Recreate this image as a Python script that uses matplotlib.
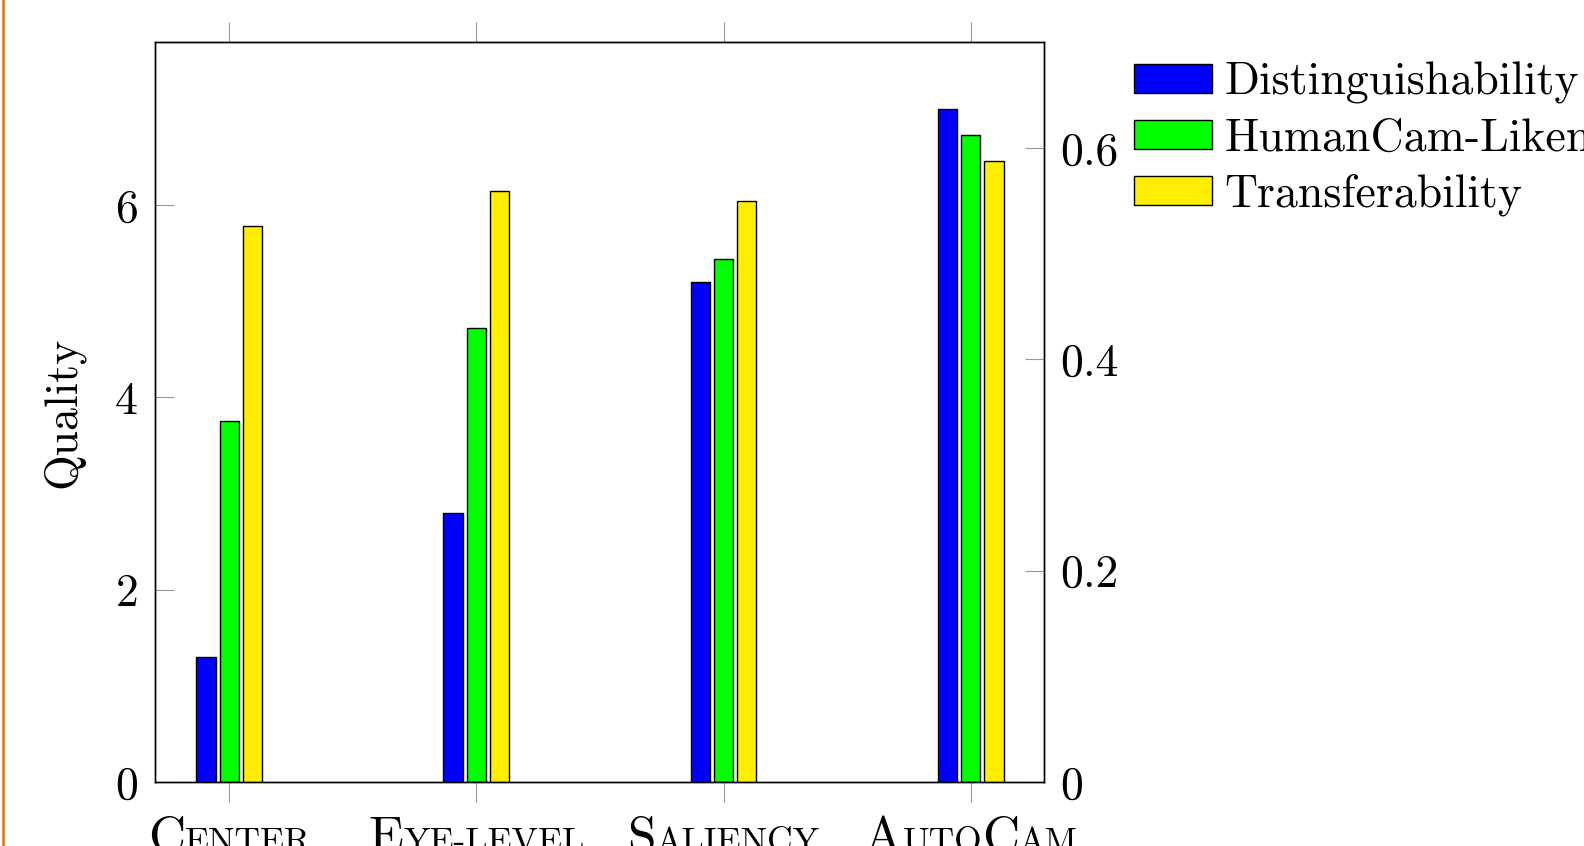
import matplotlib
matplotlib.use("Agg")
import matplotlib.pyplot as plt
from matplotlib.lines import Line2D
import numpy as np

# valori
categorie = ["Center", "Eye-level", "Saliency", "AutoCam"]
# etichette in maiuscoletto: (testo, grande?)
etichette_sc = [
    [("C", True), ("ENTER", False)],
    [("E", True), ("YE-LEVEL", False)],
    [("S", True), ("ALIENCY", False)],
    [("A", True), ("UTO", False), ("C", True), ("AM", False)],
]
distinguishability = [1.3, 2.8, 5.2, 7.0]
humancam = [3.75, 4.72, 5.44, 6.73]
transferability = [0.526, 0.559, 0.550, 0.588]

W, H, DPI = 1584, 846, 100
FS = 33
FS_BIG = 37
FS_SC = 25.5

plt.rcParams["font.family"] = ["cmr10", "DejaVu Serif"]
plt.rcParams["axes.formatter.use_mathtext"] = True
plt.rcParams["font.size"] = FS

fig = plt.figure(figsize=(W / DPI, H / DPI), dpi=DPI)
ax = fig.add_axes([154.5 / W, 1 - 782 / H, 889 / W, 739.6 / H])
ax2 = ax.twinx()

x = np.arange(len(categorie))
larg = 0.078
passo = 0.094
tick_col = "#9a9a9a"

b1 = ax.bar(x - passo, distinguishability, larg, color="#0000ff", edgecolor="black", linewidth=1.0, label="Distinguishability")
b2 = ax.bar(x, humancam, larg, color="#00ff00", edgecolor="black", linewidth=1.0, label="HumanCam-Likeness")
b3 = ax2.bar(x + passo, transferability, larg, color="#ffee00", edgecolor="black", linewidth=1.0, label="Transferability")

ax.set_xlim(-0.302, 3.294)
ax.set_ylim(0, 7.69)
ax2.set_ylim(0, 0.7)

ax.set_yticks([0, 2, 4, 6])
ax2.set_yticks([0, 0.2, 0.4, 0.6])
ax2.set_yticklabels(["0", "0.2", "0.4", "0.6"])
ax.set_xticks(x)
ax.set_xticklabels([])

ax.tick_params(axis="y", direction="in", length=14, width=0.8, color=tick_col, pad=12, labelsize=FS, left=True, right=False)
ax2.tick_params(axis="y", direction="in", length=14, width=0.8, color=tick_col, pad=12, labelsize=FS, left=False, right=True)
ax.tick_params(axis="x", direction="out", length=14.5, width=0.8, color=tick_col, top=True, bottom=True, labelbottom=False)
ax2.tick_params(axis="x", top=False, bottom=False, labelbottom=False)

for a in (ax, ax2):
    for s in a.spines.values():
        s.set_linewidth(1.0)
        s.set_color("black")

fig.text(63 / W, 1 - 412 / H, "Quality", rotation=90, ha="center", va="center", fontsize=FS)

fig.legend([b1, b2, b3], ["Distinguishability", "HumanCam-Likeness", "Transferability"],
           loc="upper left", bbox_to_anchor=(1134 / W, 1 - 62 / H), frameon=False,
           borderpad=0, borderaxespad=0, handlelength=1.7, handleheight=0.59,
           handletextpad=0.27, labelspacing=0.3, fontsize=FS)

# linea arancione a sinistra
fig.add_artist(Line2D([3.3 / W, 3.3 / W], [0, 1], color="#e8730c", linewidth=1.8))

# etichette asse x in maiuscoletto
fig.canvas.draw()
renderer = fig.canvas.get_renderer()
y_base = 1 - 852 / H
for i, pezzi in enumerate(etichette_sc):
    testi = []
    for t, grande in pezzi:
        testi.append(fig.text(0, y_base, t, fontsize=FS_BIG if grande else FS_SC, ha="left", va="baseline"))
    larghezze = [tt.get_window_extent(renderer).width for tt in testi]
    cx = ax.transData.transform((x[i], 0))[0]
    pos = cx - sum(larghezze) / 2
    for tt, w in zip(testi, larghezze):
        tt.set_x(pos / W)
        pos += w

fig.savefig("out.png", dpi=DPI)
